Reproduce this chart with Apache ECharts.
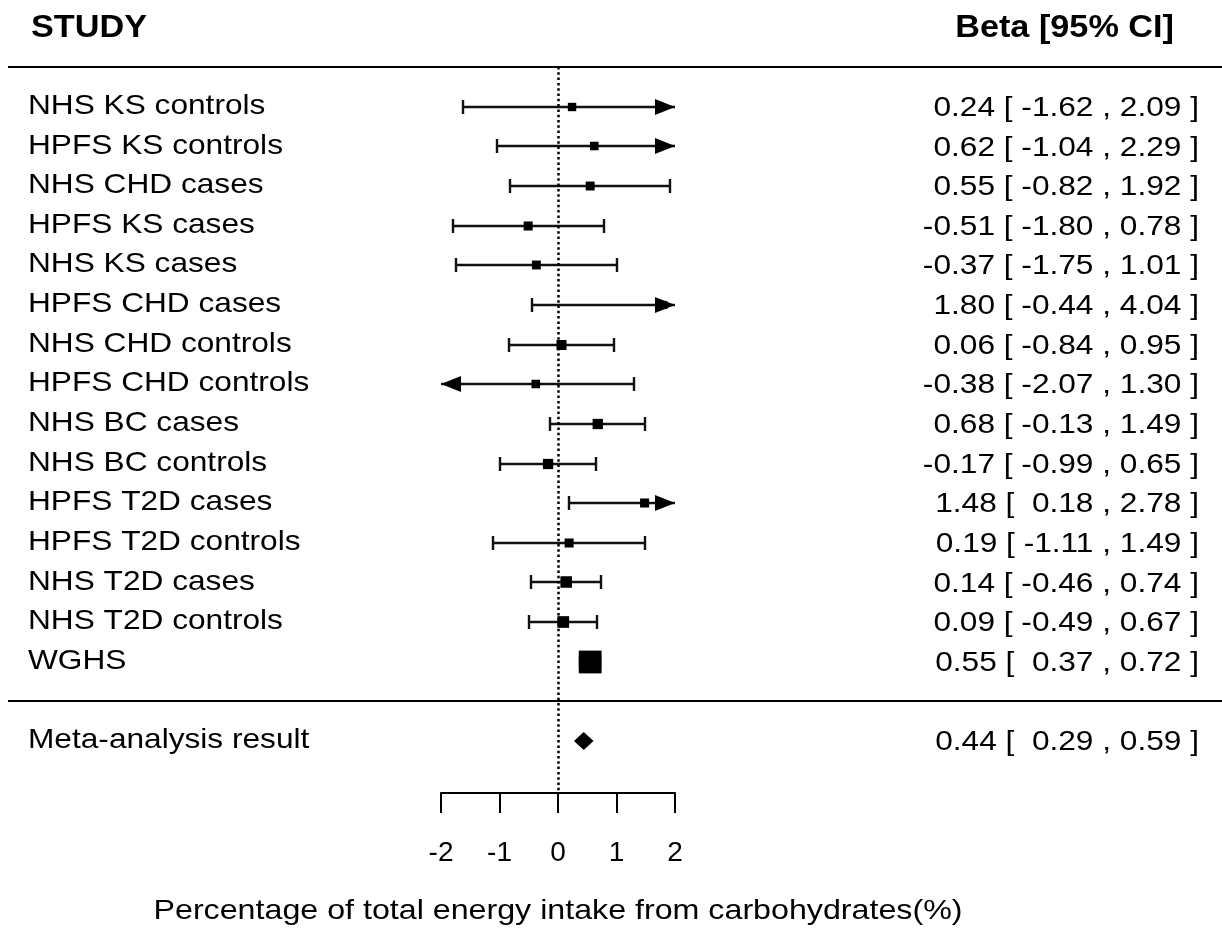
<!DOCTYPE html>
<html>
<head>
<meta charset="utf-8">
<script src="https://cdn.jsdelivr.net/npm/echarts/dist/echarts.min.js"></script>
<style>
html,body{margin:0;padding:0;background:#fff;}
#chart{width:1222px;height:930px;}
</style>
</head>
<body>
<div id="chart"></div>
<script>
// ---- data ----
const studies = [
  'NHS KS controls', 'HPFS KS controls', 'NHS CHD cases', 'HPFS KS cases',
  'NHS KS cases', 'HPFS CHD cases', 'NHS CHD controls', 'HPFS CHD controls',
  'NHS BC cases', 'NHS BC controls', 'HPFS T2D cases', 'HPFS T2D controls',
  'NHS T2D cases', 'NHS T2D controls', 'WGHS'
];
const estimates = [0.24, 0.62, 0.55, -0.51, -0.37, 1.80, 0.06, -0.38, 0.68, -0.17, 1.48, 0.19, 0.14, 0.09, 0.55];
const lowerCI   = [-1.62, -1.04, -0.82, -1.80, -1.75, -0.44, -0.84, -2.07, -0.13, -0.99, 0.18, -1.11, -0.46, -0.49, 0.37];
const upperCI   = [2.09, 2.29, 1.92, 0.78, 1.01, 4.04, 0.95, 1.30, 1.49, 0.65, 2.78, 1.49, 0.74, 0.67, 0.72];
const metaLabel = 'Meta-analysis result';
const metaEstimate = 0.44;
const metaLower = 0.29;
const metaUpper = 0.59;
const xTicks = [-2, -1, 0, 1, 2];
const xTitle = 'Percentage of total energy intake from carbohydrates(%)';
const headerLeft = 'STUDY';
const headerRight = 'Beta [95% CI]';

// ---- layout / style ----
const FONT = '"Liberation Sans", Arial, Helvetica, sans-serif';
const BODY_SIZE = 28, BODY_SCALE = 1.13;
const HEAD_SIZE = 32, HEAD_SCALE = 1.07;
const TITLE_SCALE = 1.15;
const XMIN = xTicks[0], XMAX = xTicks[xTicks.length - 1];
const META_ROW = studies.length + 1;
const SEP_ROWS = [-1, studies.length];
const HEADER_ROW = -2;
const Y_MAX = 17.31;
const MAX_MARKER = 22;

// marker sizes from precision (metafor-style scaling 0.5..1.5)
const prec = lowerCI.map((l, i) => 1 / ((upperCI[i] - l) / (2 * 1.96)));
const pMin = Math.min(...prec), pMax = Math.max(...prec);
const psize = prec.map(w => 0.5 + (w - pMin) / (pMax - pMin));

function fmt(v) { return v.toFixed(2); }
function ciText(e, l, u) {
  return fmt(e) + ' [ ' + fmt(l).padStart(5, ' ') + ' , ' + fmt(u) + ' ]';
}

const studyData = studies.map((s, i) => [i, estimates[i], lowerCI[i], upperCI[i], psize[i]]);
const labelData = studies.map((s, i) => [i, s, ciText(estimates[i], lowerCI[i], upperCI[i])])
  .concat([[META_ROW, metaLabel, ciText(metaEstimate, metaLower, metaUpper)]]);

function txt(x, y, text, size, scale, align, weight) {
  return {
    type: 'text', x: x, y: y, scaleX: scale, scaleY: 1,
    style: {
      text: text, fill: '#000', fontSize: size, fontFamily: FONT,
      fontWeight: weight || 'normal', align: align, verticalAlign: 'middle'
    }
  };
}

const chart = echarts.init(document.getElementById('chart'), null, {renderer: 'canvas'});
chart.setOption({
  animation: false,
  backgroundColor: '#fff',
  grid: {left: 441, right: 547, top: 67, bottom: 137},
  xAxis: {
    type: 'value', min: XMIN, max: XMAX, interval: 1, position: 'bottom',
    axisLine: {show: true, onZero: false, lineStyle: {color: '#000', width: 2}},
    axisTick: {show: true, length: 20, lineStyle: {color: '#000', width: 2}},
    axisLabel: {color: '#000', fontSize: BODY_SIZE, fontFamily: FONT, margin: 46,
      formatter: v => String(v)},
    splitLine: {show: false}
  },
  yAxis: {
    type: 'value', inverse: true, min: -1, max: Y_MAX, show: false,
    splitLine: {show: false}
  },
  series: [
    {
      // separator lines + zero reference line
      type: 'custom', z: 1, clip: false,
      data: SEP_ROWS.map(r => [0, r]),
      encode: {x: 0, y: 1},
      renderItem: (params, api) => {
        const y = Math.round(api.coord([0, api.value(1)])[1]);
        return {type: 'line', shape: {x1: 8, y1: y, x2: api.getWidth(), y2: y},
          style: {stroke: '#000', lineWidth: 2}};
      },
      markLine: {
        silent: true, symbol: 'none', label: {show: false},
        lineStyle: {color: '#000', width: 2.5, type: [2.5, 2.8]},
        data: [{xAxis: 0}]
      }
    },
    {
      // study confidence intervals and point estimates
      type: 'custom', z: 3, clip: false,
      data: studyData,
      encode: {x: 1, y: 0},
      renderItem: (params, api) => {
        const row = api.value(0), est = api.value(1), lb = api.value(2), ub = api.value(3), ps = api.value(4);
        const y = Math.round(api.coord([0, row])[1]);
        const xl = Math.round(api.coord([Math.max(lb, XMIN), row])[0]);
        const xr = Math.round(api.coord([Math.min(ub, XMAX), row])[0]);
        const xe = api.coord([est, row])[0];
        const children = [];
        const lw = 2.4, cap = 7, aLen = 20, aHalf = 8;
        children.push({type: 'line', shape: {x1: xl, y1: y, x2: xr, y2: y}, style: {stroke: '#111', lineWidth: lw}});
        if (lb >= XMIN) children.push({type: 'line', shape: {x1: xl, y1: y - cap, x2: xl, y2: y + cap}, style: {stroke: '#111', lineWidth: lw}});
        if (ub <= XMAX) children.push({type: 'line', shape: {x1: xr, y1: y - cap, x2: xr, y2: y + cap}, style: {stroke: '#111', lineWidth: lw}});
        if (est >= XMIN && est <= XMAX) {
          const s = ps * MAX_MARKER / 1.5 + 0.8;
          children.push({type: 'rect', shape: {x: xe - s / 2, y: y - s / 2, width: s, height: s}, style: {fill: '#000'}});
        }
        if (lb < XMIN) children.push({type: 'polygon', shape: {points: [[xl, y], [xl + aLen, y - aHalf], [xl + aLen, y + aHalf]]}, style: {fill: '#000'}});
        if (ub > XMAX) children.push({type: 'polygon', shape: {points: [[xr, y], [xr - aLen, y - aHalf], [xr - aLen, y + aHalf]]}, style: {fill: '#000'}});
        return {type: 'group', children: children};
      }
    },
    {
      // meta-analysis diamond
      type: 'custom', z: 3, clip: false,
      data: [[META_ROW, metaEstimate, metaLower, metaUpper]],
      encode: {x: 1, y: 0},
      renderItem: (params, api) => {
        const row = api.value(0);
        const pe = api.coord([api.value(1), row]);
        const pl = api.coord([api.value(2), row]);
        const pu = api.coord([api.value(3), row]);
        const h = 9;
        return {type: 'polygon', shape: {points: [[pl[0] - 1, pe[1]], [pe[0], pe[1] - h], [pu[0] + 1, pe[1]], [pe[0], pe[1] + h]]},
          style: {fill: '#000'}};
      }
    },
    {
      // row labels (study names and estimate text)
      type: 'custom', z: 4, clip: false,
      data: labelData,
      encode: {y: 0},
      renderItem: (params, api) => {
        const d = labelData[params.dataIndex];
        const y = api.coord([0, d[0]])[1];
        return {type: 'group', children: [
          txt(28, y - 0.5, d[1], BODY_SIZE, BODY_SCALE, 'left'),
          txt(1199, y + 1.5, d[2], BODY_SIZE, BODY_SCALE, 'right')
        ]};
      }
    },
    {
      // headers and axis title
      type: 'custom', z: 4, clip: false,
      data: [[0, HEADER_ROW]],
      encode: {x: 0, y: 1},
      renderItem: (params, api) => {
        const p = api.coord([0, api.value(1)]);
        const axisY = api.coord([0, Y_MAX])[1];
        return {type: 'group', children: [
          txt(31, p[1] + 1, headerLeft, HEAD_SIZE, HEAD_SCALE, 'left', 'bold'),
          txt(1174, p[1] + 1, headerRight, HEAD_SIZE, HEAD_SCALE, 'right', 'bold'),
          txt(p[0], axisY + 118, xTitle, BODY_SIZE, TITLE_SCALE, 'center')
        ]};
      }
    }
  ]
});
</script>
</body>
</html>
